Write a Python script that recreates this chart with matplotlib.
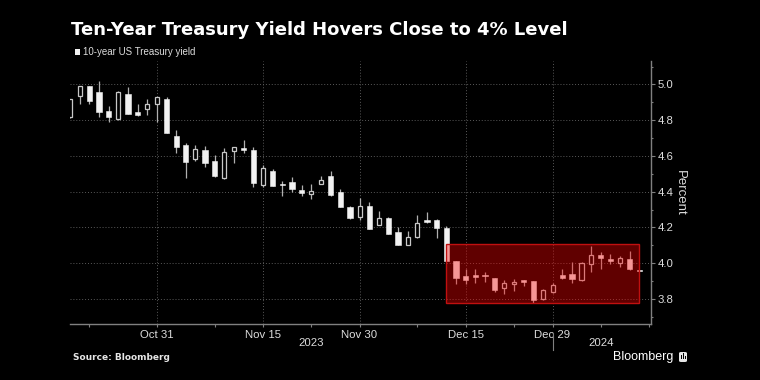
import matplotlib
matplotlib.use("Agg")
import matplotlib.pyplot as plt
import matplotlib.patches as patches
import matplotlib.transforms as mtransforms
import numpy as np

plt.rcParams['font.family'] = ['Liberation Sans', 'DejaVu Sans']

# ===============================
# Data
# ===============================

dates = ["Oct 18", "Oct 19", "Oct 20", "Oct 23", "Oct 24", "Oct 25", "Oct 26", "Oct 27",
         "Oct 30", "Oct 31", "Nov 1", "Nov 2", "Nov 3", "Nov 6", "Nov 7", "Nov 8",
         "Nov 9", "Nov 10", "Nov 13", "Nov 14", "Nov 15", "Nov 16", "Nov 17", "Nov 20",
         "Nov 21", "Nov 22", "Nov 24", "Nov 27", "Nov 28", "Nov 29", "Nov 30", "Dec 1",
         "Dec 4", "Dec 5", "Dec 6", "Dec 7", "Dec 8", "Dec 11", "Dec 12", "Dec 13",
         "Dec 14", "Dec 15", "Dec 18", "Dec 19", "Dec 20", "Dec 21", "Dec 22", "Dec 26",
         "Dec 27", "Dec 28", "Dec 29", "Jan 2", "Jan 3", "Jan 4", "Jan 5", "Jan 8",
         "Jan 9", "Jan 10", "Jan 11", "Jan 12"]

opens = [4.815, 4.933, 4.989, 4.955, 4.854, 4.809, 4.944, 4.848, 4.865, 4.888,
         4.921, 4.713, 4.663, 4.584, 4.635, 4.573, 4.478, 4.629, 4.646, 4.635,
         4.438, 4.517, 4.443, 4.457, 4.410, 4.388, 4.444, 4.489, 4.401, 4.315,
         4.260, 4.320, 4.215, 4.253, 4.172, 4.103, 4.145, 4.240, 4.242, 4.198,
         4.013, 3.927, 3.933, 3.933, 3.920, 3.863, 3.882, 3.904, 3.899, 3.798,
         3.839, 3.933, 3.942, 3.908, 3.998, 4.045, 4.021, 4.002, 4.026, 3.960]
highs = [4.920, 4.990, 4.990, 5.017, 4.882, 4.961, 4.983, 4.888, 4.916, 4.927,
         4.927, 4.747, 4.674, 4.663, 4.657, 4.607, 4.646, 4.652, 4.691, 4.652,
         4.551, 4.525, 4.461, 4.483, 4.438, 4.444, 4.489, 4.513, 4.416, 4.320,
         4.365, 4.344, 4.294, 4.260, 4.202, 4.181, 4.270, 4.288, 4.249, 4.208,
         4.013, 3.970, 3.966, 3.951, 3.920, 3.904, 3.914, 3.904, 3.900, 3.858,
         3.889, 3.970, 4.007, 4.007, 4.096, 4.060, 4.051, 4.039, 4.067, 3.962]
lows = [4.810, 4.888, 4.888, 4.820, 4.792, 4.803, 4.837, 4.826, 4.831, 4.792,
        4.730, 4.618, 4.478, 4.573, 4.539, 4.483, 4.472, 4.562, 4.618, 4.427,
        4.427, 4.430, 4.376, 4.399, 4.378, 4.360, 4.444, 4.378, 4.316, 4.247,
        4.242, 4.191, 4.215, 4.161, 4.101, 4.103, 4.142, 4.226, 4.142, 4.010,
        3.882, 3.882, 3.889, 3.895, 3.840, 3.830, 3.845, 3.873, 3.775, 3.792,
        3.833, 3.914, 3.889, 3.899, 3.951, 3.965, 3.994, 3.980, 3.961, 3.955]
closes = [4.916, 4.989, 4.910, 4.843, 4.820, 4.955, 4.837, 4.831, 4.893, 4.927,
          4.730, 4.652, 4.567, 4.640, 4.562, 4.489, 4.624, 4.652, 4.635, 4.449,
          4.534, 4.433, 4.440, 4.414, 4.392, 4.404, 4.466, 4.382, 4.316, 4.253,
          4.322, 4.191, 4.251, 4.161, 4.101, 4.148, 4.223, 4.229, 4.198, 4.013,
          3.920, 3.908, 3.924, 3.928, 3.848, 3.892, 3.895, 3.895, 3.792, 3.848,
          3.880, 3.920, 3.914, 4.002, 4.045, 4.030, 4.013, 4.030, 3.965, 3.957]

tick_dates = ["Oct 31", "Nov 15", "Nov 30", "Dec 15", "Dec 29"]
minor_ticks = [2, 15, 25, 36, 46, 55, 60]
years = ["2023", "2024"]
year_pos = [25, 55]

# highlighted range (Dec 13 onward)
box_start = "Dec 13"
box_end = "Jan 12"
box_low = 3.776
box_high = 4.108

# ===============================
# Figure
# ===============================

BG = "#000000"
fig = plt.figure(figsize=(7.6, 3.8), dpi=100, facecolor=BG)
ax = fig.add_axes([70 / 760, 56 / 380, 581 / 760, 263 / 380])
ax.set_facecolor(BG)

x = np.arange(len(dates))
o = np.array(opens)
h = np.array(highs)
l = np.array(lows)
c = np.array(closes)
up = c >= o

# wicks
ax.vlines(x, l, h, color="#b0b0b0", linewidth=0.9, zorder=2)

# bodies
bottom = np.minimum(o, c)
height = np.maximum(np.abs(c - o), 0.004)
ax.bar(x[~up], height[~up], bottom=bottom[~up], width=0.55,
       color="#f2f2f2", edgecolor="#f2f2f2", linewidth=0.4, zorder=3)
ax.bar(x[up], height[up], bottom=bottom[up], width=0.42,
       color=BG, edgecolor="#c8c8c8", linewidth=0.9, zorder=3)

# highlight box
i0 = dates.index(box_start)
i1 = dates.index(box_end)
ax.add_patch(patches.Rectangle((i0, box_low), i1 - i0, box_high - box_low,
                               facecolor=(1, 0, 0, 0.38), edgecolor="#c01010",
                               linewidth=1.0, zorder=5))

# axes
ax.set_xlim(0, 60.2)
ax.set_ylim(3.660, 5.131)

major_pos = [dates.index(d) for d in tick_dates]
ax.set_xticks(major_pos)
ax.set_xticklabels(tick_dates)
ax.set_xticks(minor_ticks, minor=True)
ax.set_yticks(np.arange(3.8, 5.01, 0.2))
ax.set_yticks(np.arange(3.7, 5.11, 0.1), minor=True)
ax.yaxis.set_major_formatter(matplotlib.ticker.FormatStrFormatter("%.1f"))
ax.yaxis.tick_right()

ax.tick_params(axis="both", which="both", colors="#808080", labelcolor="#dcdcdc",
               labelsize=8.2, length=2.5, width=0.8)
ax.tick_params(axis="y", which="major", pad=1.5, length=3)
ax.tick_params(axis="y", which="minor", length=1.5)
ax.tick_params(axis="x", which="major", pad=2)

for side in ["left", "top"]:
    ax.spines[side].set_visible(False)
for side in ["right", "bottom"]:
    ax.spines[side].set_color("#808080")
    ax.spines[side].set_linewidth(1.0)

ax.grid(True, which="major", color="#5a5a5a", linestyle=(0, (1, 2)), linewidth=0.7)
ax.set_axisbelow(True)

# year labels and separator
trans = mtransforms.blended_transform_factory(ax.transData, ax.transAxes)
for yr, pos in zip(years, year_pos):
    ax.text(pos, -0.072, yr, transform=trans, ha="center", va="center",
            color="#dcdcdc", fontsize=8.2)
ax.plot([50, 50], [-0.034, -0.099], transform=trans, color="#808080",
        linewidth=0.8, clip_on=False)

# ===============================
# Texts
# ===============================

fig.text(71 / 760, 1 - 35 / 380, "Ten-Year Treasury Yield Hovers Close to 4% Level",
         color="white", fontsize=13, fontweight="bold", va="baseline", ha="left",
         family="DejaVu Sans")

fig.patches.append(patches.Rectangle((75 / 760, 1 - 55 / 380), 5 / 760, 6 / 380,
                                     transform=fig.transFigure, facecolor="#f2f2f2",
                                     edgecolor="none"))
fig.text(83 / 760, 1 - 52 / 380, "10-year US Treasury yield", color="#dcdcdc",
         fontsize=7, va="center", ha="left")

fig.text(680 / 760, 1 - 193 / 380, "Percent", color="#dcdcdc", fontsize=9.5,
         rotation=270, va="center", ha="center")

fig.text(73 / 760, 1 - 358 / 380, "Source: Bloomberg", color="#e6e6e6",
         fontsize=6.5, fontweight="bold", va="center", ha="left",
         family="DejaVu Sans")
fig.text(673 / 760, 1 - 357 / 380, "Bloomberg", color="white", fontsize=9,
         va="center", ha="right")

# small logo mark
fig.patches.append(patches.FancyBboxPatch((679 / 760, 1 - 362 / 380), 8 / 760, 10 / 380,
                                          boxstyle="round,pad=0,rounding_size=0.003",
                                          transform=fig.transFigure,
                                          facecolor="#e6e6e6", edgecolor="none"))
for bx, bh in zip([681, 683, 685], [4, 6, 3]):
    fig.patches.append(patches.Rectangle((bx / 760, 1 - 359 / 380), 1 / 760, bh / 380,
                                         transform=fig.transFigure, facecolor=BG,
                                         edgecolor="none"))

fig.savefig("out.png", dpi=100, facecolor=BG)
